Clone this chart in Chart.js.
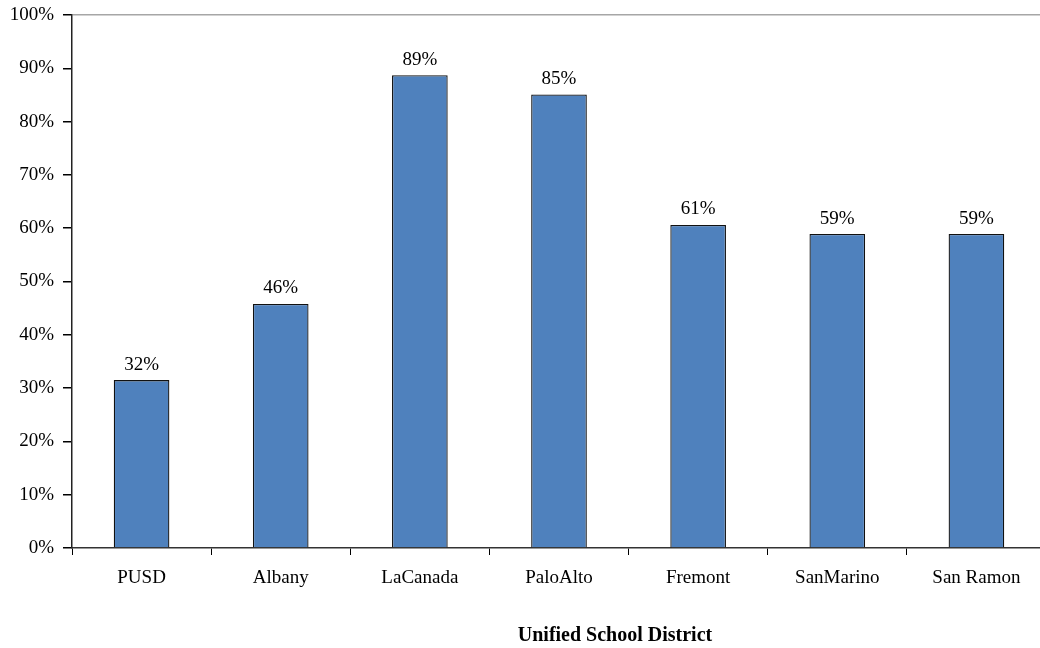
<!DOCTYPE html>
<html>
<head>
<meta charset="utf-8">
<script src="https://cdn.jsdelivr.net/npm/chart.js@4.4.0/dist/chart.umd.min.js"></script>
<style>
  html, body { margin: 0; padding: 0; background: #fff; overflow: hidden; }
  #wrap { width: 1046px; height: 648px; position: relative; }
</style>
</head>
<body>
<div id="wrap"><canvas id="barChart"></canvas></div>
<script>
const districts = ['PUSD', 'Albany', 'LaCanada', 'PaloAlto', 'Fremont', 'SanMarino', 'San Ramon'];
const shares = [31.5, 45.8, 88.7, 85.1, 60.6, 58.9, 58.9];
const shareLabels = ['32%', '46%', '89%', '85%', '61%', '59%', '59%'];
const yTicks = [0, 10, 20, 30, 40, 50, 60, 70, 80, 90, 100];

const serif = '"Liberation Serif", "Times New Roman", serif';

// draws the % above each bar and the x axis title
const barLabels = {
  id: 'barLabels',
  afterDatasetsDraw(chart) {
    const ctx = chart.ctx;
    const meta = chart.getDatasetMeta(0);
    ctx.save();
    ctx.fillStyle = '#000';
    ctx.font = '19px ' + serif;
    ctx.textAlign = 'center';
    ctx.textBaseline = 'bottom';
    meta.data.forEach((bar, i) => {
      ctx.fillText(shareLabels[i], bar.x, bar.y - 6);
    });
    ctx.font = 'bold 20px ' + serif;
    ctx.textBaseline = 'alphabetic';
    ctx.fillText('Unified School District', 615, 641);
    ctx.restore();
  }
};

new Chart(document.getElementById('barChart'), {
  type: 'bar',
  data: {
    labels: districts,
    datasets: [{
      data: shares,
      backgroundColor: '#4F81BD',
      borderColor: '#111',
      borderWidth: 1.3,
      barPercentage: 0.4,
      categoryPercentage: 1
    }]
  },
  options: {
    responsive: true,
    maintainAspectRatio: false,
    animation: false,
    layout: { padding: { top: 15, left: 0, right: 0, bottom: 0 } },
    plugins: {
      legend: { display: false },
      tooltip: { enabled: false }
    },
    scales: {
      x: {
        grid: {
          offset: true,
          color: 'rgba(0,0,0,0)',
          tickColor: '#000',
          tickLength: 7
        },
        border: { color: '#333', width: 1.5 },
        ticks: {
          color: '#000',
          font: { family: serif, size: 19 },
          padding: 12,
          maxRotation: 0
        },
        afterFit(scale) {
          scale.height = 100;
          scale.paddingLeft = 0;
          scale.paddingRight = 0;
        }
      },
      y: {
        min: 0,
        max: 100,
        afterBuildTicks(scale) {
          scale.ticks = yTicks.map(v => ({ value: v }));
        },
        grid: {
          color: ctx => (ctx.tick && ctx.tick.value === 100) ? '#a6a6a6' : 'rgba(0,0,0,0)',
          lineWidth: 1.5,
          tickColor: '#000',
          tickLength: 9
        },
        border: { color: '#222', width: 1.5 },
        ticks: {
          color: '#000',
          font: { family: serif, size: 19 },
          padding: 9,
          callback: v => v + '%'
        },
        afterFit(scale) {
          scale.width = 72;
          scale.paddingTop = 0;
          scale.paddingBottom = 0;
        }
      }
    }
  },
  plugins: [barLabels]
});
</script>
</body>
</html>
